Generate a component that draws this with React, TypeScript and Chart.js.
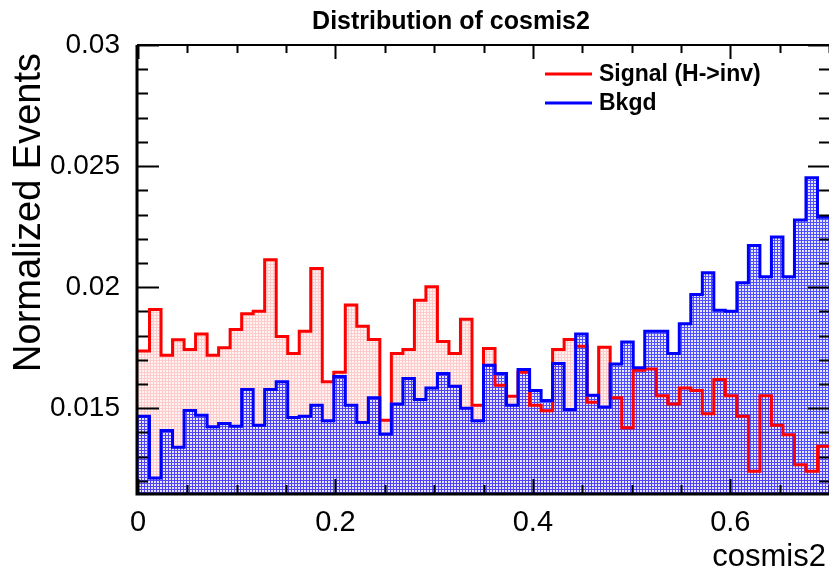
import { useEffect, useRef } from "react";
import { Chart, registerables } from "chart.js";

Chart.register(...registerables);

// Histogram binning for cosmis2
const X_LOW = 0;
const X_HIGH = 0.7;
const N_BINS = 60;

// Normalized bin contents, signal (H->inv)
const signal = [
  0.01736, 0.01908, 0.01719, 0.01783, 0.01743, 0.01807, 0.01719, 0.0175, 0.01825, 0.0189,
  0.01901, 0.02113, 0.01796, 0.01726, 0.01818, 0.02077, 0.01609, 0.01649, 0.01926, 0.01839,
  0.01784, 0.0145, 0.01726, 0.01743, 0.01946, 0.02002, 0.01776, 0.01726, 0.01867, 0.01512,
  0.01747, 0.01595, 0.0155, 0.01649, 0.01512, 0.0149, 0.01743, 0.01784, 0.01756, 0.01525,
  0.01752, 0.01543, 0.01419, 0.01657, 0.01662, 0.01552, 0.01518, 0.01584, 0.01573, 0.01477,
  0.01619, 0.01552, 0.01467, 0.0124, 0.01552, 0.0143, 0.01391, 0.01267, 0.0124, 0.01343,
];

// Normalized bin contents, background
const bkgd = [
  0.01467, 0.01212, 0.01408, 0.01339, 0.01491, 0.01471, 0.01424, 0.01437, 0.01426, 0.01577,
  0.0143, 0.01577, 0.01609, 0.01462, 0.01467, 0.01512, 0.01448, 0.01631, 0.01512, 0.01441,
  0.01543, 0.01394, 0.01518, 0.01623, 0.01536, 0.01584, 0.01643, 0.01591, 0.015, 0.01448,
  0.01678, 0.01643, 0.01512, 0.0166, 0.01573, 0.01532, 0.01685, 0.01495, 0.01807, 0.01554,
  0.01505, 0.01683, 0.01774, 0.01667, 0.01818, 0.01818, 0.01726, 0.01849, 0.0197, 0.0206,
  0.01905, 0.01901, 0.02018, 0.02172, 0.02043, 0.02207, 0.02043, 0.02277, 0.02452, 0.02289,
];

const Y_MIN = 0.0115;
const Y_MAX = 0.03;
const X_TICKS = [0, 0.2, 0.4, 0.6];
const Y_TICKS = [0.015, 0.02, 0.025, 0.03];

const TITLE = "Distribution of cosmis2";
const X_TITLE = "cosmis2";
const Y_TITLE = "Normalized Events";
const LEGEND_LABELS = ["Signal (H->inv)", "Bkgd"];

const RED = "#ff0000";
const BLUE = "#0000ff";
const FONT = '"Liberation Sans", Helvetica, Arial, sans-serif';

// Step outline: one point at each bin's low edge, plus the upper edge of the last bin.
function stepPoints(values: number[]) {
  const w = (X_HIGH - X_LOW) / N_BINS;
  const pts: { x: number; y: number }[] = [];
  for (let i = 0; i <= N_BINS; i++) {
    pts.push({ x: X_LOW + i * w, y: values[Math.min(i, N_BINS - 1)] });
  }
  return pts;
}

// Small dotted hatch tiles for the histogram fills
function makePattern(kind: "red" | "blue"): CanvasPattern | string {
  const c = document.createElement("canvas");
  c.width = 3;
  c.height = 3;
  const g = c.getContext("2d");
  if (!g) return kind === "red" ? "rgba(255,0,0,0.2)" : "rgba(0,0,255,0.4)";
  for (let yy = 0; yy < 3; yy++) {
    for (let xx = 0; xx < 3; xx++) {
      const grid = xx === 0 || yy === 0;
      if (kind === "red") {
        g.fillStyle = grid ? "rgba(255,90,90,0.32)" : "rgba(255,150,150,0.12)";
      } else {
        g.fillStyle = grid ? "rgba(30,30,255,0.78)" : "rgba(222,222,255,0.75)";
      }
      g.fillRect(xx, yy, 1, 1);
    }
  }
  const p = g.createPattern(c, "repeat");
  return p || "rgba(0,0,255,0.4)";
}

const framePlugin = {
  id: "rootFrame",
  afterDraw(chart: any) {
    const { ctx, chartArea, scales } = chart;
    const { left, right, top, bottom } = chartArea;
    const xs = scales.x;
    const ys = scales.y;
    ctx.save();
    ctx.strokeStyle = "#000";

    // axis ticks (inside the frame)
    ctx.lineWidth = 2;
    ctx.beginPath();
    for (let k = 0; k <= 14; k++) {
      const v = k * 0.05;
      const px = Math.round(xs.getPixelForValue(v)) + 0.5;
      const major = k % 4 === 0;
      const len = major ? 14 : 8;
      ctx.moveTo(px, bottom);
      ctx.lineTo(px, bottom - len);
      ctx.moveTo(px, top);
      ctx.lineTo(px, top + len);
    }
    for (let k = 12; k <= 30; k++) {
      const v = k * 0.001;
      const py = Math.round(ys.getPixelForValue(v)) + 0.5;
      const major = k % 5 === 0;
      const len = major ? 21 : 10;
      ctx.moveTo(left, py);
      ctx.lineTo(left + len, py);
      ctx.moveTo(right, py);
      ctx.lineTo(right - len, py);
    }
    ctx.stroke();

    // frame
    ctx.lineWidth = 3;
    ctx.beginPath();
    ctx.moveTo(left - 1, top);
    ctx.lineTo(left - 1, bottom + 1);
    ctx.lineTo(right, bottom + 1);
    ctx.stroke();
    ctx.lineWidth = 2;
    ctx.beginPath();
    ctx.moveTo(left - 1, top);
    ctx.lineTo(right, top);
    ctx.stroke();

    // title
    ctx.fillStyle = "#000";
    ctx.font = `bold 25px ${FONT}`;
    ctx.textAlign = "center";
    ctx.textBaseline = "middle";
    ctx.fillText(TITLE, 451, 22);

    // x axis title
    ctx.font = `31px ${FONT}`;
    ctx.textAlign = "right";
    ctx.fillText(X_TITLE, 826, 557);

    // y axis title
    ctx.save();
    ctx.translate(30, 53);
    ctx.rotate(-Math.PI / 2);
    ctx.font = `38px ${FONT}`;
    ctx.textAlign = "right";
    ctx.textBaseline = "middle";
    ctx.fillText(Y_TITLE, 0, 0);
    ctx.restore();

    // legend
    ctx.fillStyle = "#ffffff";
    ctx.fillRect(533, 59, 260, 59);
    const rows = [
      { label: LEGEND_LABELS[0], color: RED, y: 74 },
      { label: LEGEND_LABELS[1], color: BLUE, y: 103 },
    ];
    ctx.font = `bold 23px ${FONT}`;
    ctx.textAlign = "left";
    ctx.textBaseline = "middle";
    for (const r of rows) {
      ctx.strokeStyle = r.color;
      ctx.lineWidth = 3;
      ctx.beginPath();
      ctx.moveTo(545, r.y);
      ctx.lineTo(592, r.y);
      ctx.stroke();
      ctx.fillStyle = "#000";
      ctx.fillText(r.label, 599, r.y + 1);
    }
    ctx.restore();
  },
};

export default function App() {
  const ref = useRef<HTMLCanvasElement | null>(null);

  useEffect(() => {
    const canvas = ref.current;
    if (!canvas) return;
    const sigPts = stepPoints(signal);
    const bkgPts = stepPoints(bkgd);
    const common = { stepped: "before" as const, pointRadius: 0 };
    // Drawn from the last dataset to the first: red fill, blue fill, red outline, blue outline.
    const chart = new Chart(canvas, {
      type: "line",
      data: {
        datasets: [
          { ...common, label: LEGEND_LABELS[1], data: bkgPts, borderColor: BLUE, borderWidth: 3, fill: false },
          { ...common, label: LEGEND_LABELS[0], data: sigPts, borderColor: RED, borderWidth: 3, fill: false },
          {
            ...common,
            label: LEGEND_LABELS[1] + " fill",
            data: bkgPts,
            borderWidth: 0,
            borderColor: "rgba(0,0,0,0)",
            backgroundColor: makePattern("blue") as any,
            fill: "start",
          },
          {
            ...common,
            label: LEGEND_LABELS[0] + " fill",
            data: sigPts,
            borderWidth: 0,
            borderColor: "rgba(0,0,0,0)",
            backgroundColor: makePattern("red") as any,
            fill: "start",
          },
        ],
      },
      options: {
        animation: false,
        responsive: false,
        devicePixelRatio: 1,
        layout: { padding: { top: 45, right: 0, left: 0, bottom: 0 } },
        plugins: {
          legend: { display: false },
          tooltip: { enabled: false },
          title: { display: false },
        },
        scales: {
          x: {
            type: "linear",
            min: X_LOW,
            max: X_HIGH,
            grid: { display: false, drawTicks: false },
            border: { display: false },
            afterBuildTicks: (s: any) => {
              s.ticks = X_TICKS.map((v) => ({ value: v }));
            },
            afterFit: (s: any) => {
              s.height = 85;
            },
            ticks: {
              font: { family: FONT, size: 29 },
              color: "#000",
              padding: 13,
              maxRotation: 0,
              autoSkip: false,
              callback: (v: any) => String(v),
            },
          },
          y: {
            type: "linear",
            min: Y_MIN,
            max: Y_MAX,
            grid: { display: false, drawTicks: false },
            border: { display: false },
            afterBuildTicks: (s: any) => {
              s.ticks = Y_TICKS.map((v) => ({ value: v }));
            },
            afterFit: (s: any) => {
              s.width = 138;
            },
            ticks: {
              font: { family: FONT, size: 28 },
              color: "#000",
              padding: 18,
              autoSkip: false,
              callback: (v: any) => String(v),
            },
          },
        },
      },
      plugins: [framePlugin],
    });
    return () => chart.destroy();
  }, []);

  return (
    <div style={{ position: "absolute", left: 0, top: 0, width: 829, height: 578, background: "#fff" }}>
      <canvas ref={ref} width={829} height={578} style={{ display: "block" }} />
    </div>
  );
}
